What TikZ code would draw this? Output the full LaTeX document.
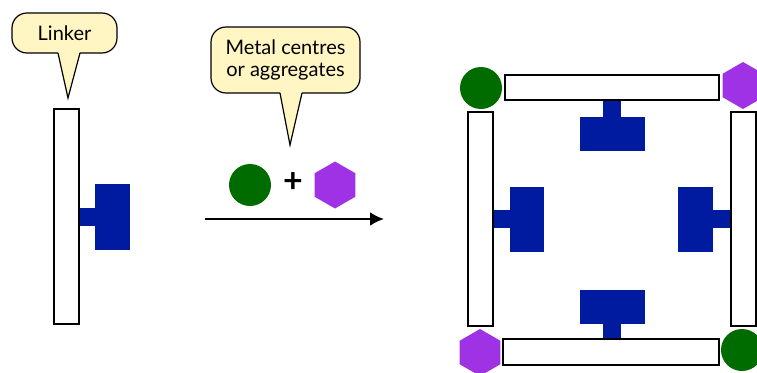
\documentclass[tikz,border=0pt]{standalone}
\usepackage{fontspec}
\setmainfont{Lato}
\usetikzlibrary{shapes.geometric,arrows.meta}
\definecolor{linkblue}{RGB}{0,26,160}
\definecolor{metalgreen}{RGB}{0,108,0}
\definecolor{metalpurple}{RGB}{160,50,230}
\definecolor{bubblefill}{RGB}{255,246,196}
\tikzset{
	bar/.style={draw, line width=1.8pt, fill=white},
	block/.style={fill=linkblue},
	disc/.style={circle, fill=metalgreen, minimum size=42pt, inner sep=0pt},
	hexa/.style={regular polygon, regular polygon sides=6, shape border rotate=30, fill=metalpurple, minimum size=47pt, inner sep=0pt},
	bubble/.style={draw, line width=1.2pt, fill=bubblefill, rounded corners=15pt, inner sep=0pt, align=center, font=\fontsize{20}{22}\selectfont},
	tail/.style={line width=1.2pt}
}

\begin{document}
\begin{tikzpicture}[x=1pt,y=-1pt]
	\useasboundingbox (0,0) rectangle (757,372);

	\node[bubble, minimum width=105pt, minimum height=40pt] (linker) at (64.5,33) {Linker};
	\fill[bubblefill] (58,52) -- (68,98) -- (80,52) -- cycle;
	\draw[tail] (58,53) -- (68,98) -- (80,53);

	\node[bubble, minimum width=149pt, minimum height=66pt] (metal) at (285.5,60) {Metal centres\\or aggregates};
	\fill[bubblefill] (280,92) -- (290,145) -- (302,92) -- cycle;
	\draw[tail] (280,93) -- (290,145) -- (302,93);

	\fill[block] (79,208) rectangle (95,226);
	\fill[block] (95,184) rectangle (130,250);
	\draw[bar] (54,109) rectangle (79,324);

	\node[disc] (m1) at (250,185) {};
	\node[font=\bfseries\fontsize{34}{34}\selectfont] (plus) at (293,183) {+};
	\node[hexa] (m2) at (335,185) {};
	\coordinate (arrS) at (205,219);
	\coordinate (arrE) at (384,219);
	\draw[line width=2.4pt, -{Latex[length=14pt,width=14pt]}] (arrS) -- (arrE);

	\fill[block] (603,100) rectangle (621,117);
	\fill[block] (580,117) rectangle (645,151);
	\fill[block] (580,290) rectangle (645,324);
	\fill[block] (603,324) rectangle (621,339);
	\fill[block] (493,210) rectangle (510,228);
	\fill[block] (510,187) rectangle (544,252);
	\fill[block] (713,210) rectangle (731,228);
	\fill[block] (678,187) rectangle (713,252);

	\draw[bar] (505,75) rectangle (719,100);
	\draw[bar] (503,339) rectangle (719,365);
	\draw[bar] (468,112) rectangle (493,326);
	\draw[bar] (731,112) rectangle (756,326);

	\node[disc] (tl) at (481,88) {};
	\node[hexa] (tr) at (743,85.5) {};
	\node[hexa] (bl) at (480,352.5) {};
	\node[disc] (br) at (742,350) {};
\end{tikzpicture}
\end{document}
